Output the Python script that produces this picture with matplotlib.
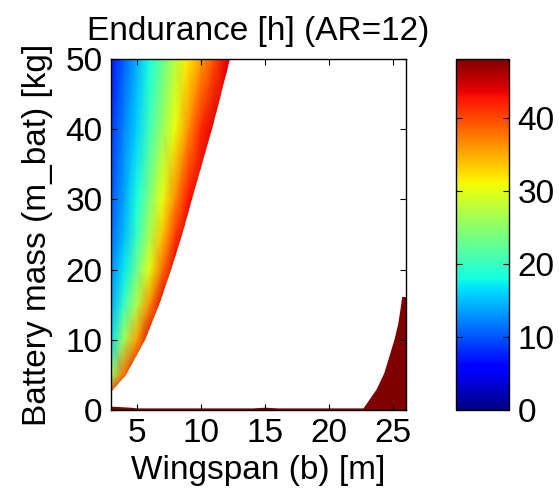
import matplotlib
matplotlib.use("Agg")
import matplotlib.pyplot as plt
import numpy as np
from matplotlib.colors import Normalize
from matplotlib.patches import Polygon

plt.rcParams['font.family'] = ['Liberation Sans', 'DejaVu Sans']

# endurance [h] sampled on a coarse wingspan / battery-mass grid
span_cols = [3, 4, 5, 6, 7, 8, 9, 10, 11, 12, 13]
mass_rows = [2.5, 5, 10, 15, 20, 25, 30, 40, 50]
endurance = [
    [40.0, 44.0, 44.0, 44.0, 44.0, 44.0, 44.0, 44.0, 44.0, 44.0, 44.0],
    [25.0, 38.0, 44.0, 44.0, 44.0, 44.0, 44.0, 44.0, 44.0, 44.0, 44.0],
    [16.5, 26.0, 35.5, 44.0, 44.0, 44.0, 44.0, 44.0, 44.0, 44.0, 44.0],
    [14.0, 20.0, 27.0, 36.5, 44.0, 44.0, 44.0, 44.0, 44.0, 44.0, 44.0],
    [12.5, 17.0, 23.0, 30.0, 38.0, 44.0, 44.0, 44.0, 44.0, 44.0, 44.0],
    [11.0, 14.8, 19.8, 26.6, 33.5, 40.6, 44.0, 44.0, 44.0, 44.0, 44.0],
    [10.0, 13.8, 18.3, 24.3, 30.3, 36.5, 42.5, 44.0, 44.0, 44.0, 44.0],
    [8.6, 12.2, 15.9, 20.5, 25.5, 30.5, 36.0, 41.5, 44.0, 44.0, 44.0],
    [7.0, 10.6, 14.3, 18.2, 22.8, 27.4, 31.8, 35.5, 39.7, 43.5, 44.0],
]

# right-hand limit of the feasible region
edge_mass = [2.6, 5, 10, 15, 20, 25, 30, 35, 40, 45, 50]
edge_span = [3.0, 4.2, 5.65, 6.75, 7.7, 8.55, 9.35, 10.1, 10.85, 11.6, 12.3]

# saturated zone in the lower right corner
corner_span = [22.6, 23.7, 24.3, 24.7, 25.1, 25.4, 25.6, 25.7, 26.0, 26.0]
corner_mass = [0.0, 2.9, 5.2, 7.6, 10.0, 12.3, 14.7, 16.1, 16.1, 0.0]

# thin saturated strip along m_bat = 0
strip_span = [3.0, 3.5, 4.0, 4.5, 5.0, 6.0, 14.0, 15.0, 16.0, 20.0, 23.0]
strip_top = [0.55, 0.5, 0.45, 0.4, 0.3, 0.3, 0.3, 0.4, 0.3, 0.3, 0.3]
saturated = 48.0

cmap = plt.get_cmap('jet')
norm = Normalize(vmin=0, vmax=48)
fs = 24

fig = plt.figure(figsize=(5.59, 4.99), dpi=100)
ax = fig.add_axes([111 / 559, 1 - 410 / 499, 295 / 559, 351 / 499])
cax = fig.add_axes([456 / 559, 1 - 410 / 499, 53 / 559, 351 / 499])

X, Y = np.meshgrid(span_cols, mass_rows)
mesh = ax.pcolormesh(X, Y, np.array(endurance), cmap=cmap, norm=norm,
                     shading='gouraud')
outline = list(zip(edge_span, edge_mass))[::-1] + [(3.0, 50.0)]
clip = Polygon(outline, closed=True, transform=ax.transData)
mesh.set_clip_path(clip)

dark = cmap(norm(saturated))
ax.add_patch(Polygon(list(zip(corner_span, corner_mass)), closed=True,
                     facecolor=dark, edgecolor='none'))
ax.fill_between(strip_span, 0, strip_top, color=dark, lw=0)

ax.set_xlim(3, 26)
ax.set_ylim(0, 50)
ax.set_xticks([5, 10, 15, 20, 25])
ax.set_yticks([0, 10, 20, 30, 40, 50])
ax.tick_params(direction='in', top=True, right=True, length=4,
               labelsize=fs, pad=6)
ax.set_xlabel('Wingspan (b) [m]', fontsize=fs, labelpad=4)
ax.set_ylabel('Battery mass (m_bat) [kg]', fontsize=fs, labelpad=9)
ax.set_title('Endurance [h] (AR=12)', fontsize=fs, pad=14)
for s in ax.spines.values():
    s.set_linewidth(1.0)

sm = plt.cm.ScalarMappable(norm=norm, cmap=cmap)
cb = fig.colorbar(sm, cax=cax, ticks=[0, 10, 20, 30, 40])
cb.ax.tick_params(direction='in', left=True, right=True, length=4,
                  labelsize=fs, pad=6)
cb.outline.set_linewidth(1.0)

fig.savefig('out.png', dpi=100)
